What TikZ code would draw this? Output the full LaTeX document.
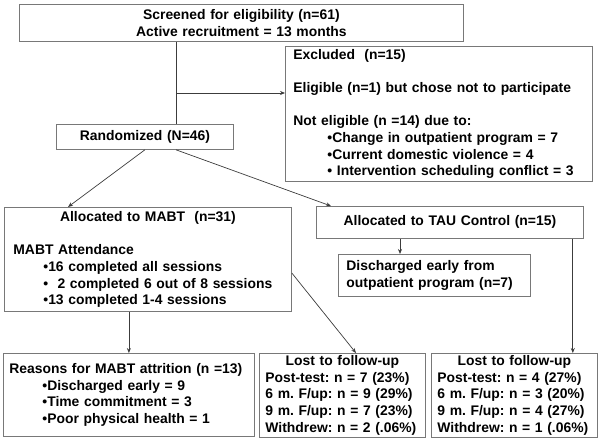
\documentclass[tikz,border=0pt]{standalone}
\usepackage{fontspec}
\setmainfont{Liberation Sans}
\usetikzlibrary{arrows.meta}
\definecolor{boxgray}{RGB}{120,120,120}
\definecolor{linegray}{RGB}{60,60,60}
\tikzset{
  box/.style={draw=boxgray, line width=0.8pt, inner xsep=8pt, inner ysep=2pt,
    anchor=north west, align=left},
  arr/.style={draw=linegray, line width=0.7pt, -{Stealth[length=5pt,width=4pt]}},
  link/.style={draw=linegray, line width=0.7pt}
}
\begin{document}
\begin{tikzpicture}[x=1pt, y=-1pt, font=\bfseries\fontsize{13.9}{16.7}\selectfont\frenchspacing]
    \useasboundingbox (0,0) rectangle (602,441);

    % Enrolment
    \node[box, align=center, minimum width=444pt, minimum height=37pt, text width=428pt]
        (screen) at (19,4) {Screened for eligibility (n=61)\\Active recruitment = 13 months};
    \node[box, minimum width=307pt, minimum height=135pt, text width=291pt]
        (excl) at (285,46) {Excluded\ \ (n=15)\\[16.7pt]
        Eligible (n=1) but chose not to participate\\[16.7pt]
        Not eligible (n =14) due to:\\
        \hspace*{34pt}•Change in outpatient program = 7\\
        \hspace*{34pt}•Current domestic violence = 4\\
        \hspace*{34pt}• Intervention scheduling conflict = 3};
    \node[box, align=center, minimum width=177pt, minimum height=25pt, text width=161pt]
        (rand) at (56,124) {Randomized (N=46)};

    % Allocation
    \node[box, inner xsep=9pt, minimum width=287pt, minimum height=104pt, text width=269pt]
        (mabt) at (4,207) {{\centering Allocated to MABT\ \ (n=31)\par}
        \mbox{}\\
        MABT Attendance\\
        \hspace*{30pt}•16 completed all sessions\\
        \hspace*{30pt}•\ \ 2 completed 6 out of 8 sessions\\
        \hspace*{30pt}•13 completed 1-4 sessions};
    \node[box, align=center, minimum width=267pt, minimum height=32pt, text width=251pt]
        (tau) at (316,206) {Allocated to TAU Control (n=15)};
    \node[box, minimum width=192pt, minimum height=42pt, text width=176pt]
        (disch) at (338,254) {Discharged early from\\outpatient program (n=7)};

    % Follow-up
    \node[box, inner xsep=6pt, minimum width=251pt, minimum height=83pt, text width=239pt]
        (reasons) at (3,353) {Reasons for MABT attrition (n =13)\\
        \hspace*{33pt}•Discharged early = 9\\
        \hspace*{33pt}•Time commitment = 3\\
        \hspace*{33pt}•Poor physical health = 1};
    \node[box, inner xsep=6pt, minimum width=166pt, minimum height=82pt, text width=154pt]
        (lostA) at (259,353) {{\centering Lost to follow-up\par}
        Post-test: n = 7 (23\%)\\
        6 m. F/up: n = 9 (29\%)\\
        9 m. F/up: n = 7 (23\%)\\
        Withdrew: n = 2 (.06\%)};
    \node[box, inner xsep=6pt, minimum width=166pt, minimum height=82pt, text width=154pt]
        (lostB) at (431,353) {{\centering Lost to follow-up\par}
        Post-test: n = 4 (27\%)\\
        6 m. F/up: n = 3 (20\%)\\
        9 m. F/up: n = 4 (27\%)\\
        Withdrew: n = 1 (.06\%)};

    % Connectors
    \coordinate (trunk) at (176,93);
    \draw[link] (screen.south -| trunk) -- (rand.north -| trunk);
    \draw[arr] (trunk) -- (trunk -| excl.west);
    \draw[arr] (rand.south) -- ([xshift=64pt]mabt.north west);
    \draw[arr] ([xshift=120pt]rand.south west) -- ([xshift=15pt]tau.north west);
    \coordinate (taudrop) at ([xshift=84pt]tau.south west);
    \draw[arr] (taudrop) -- (taudrop |- disch.north);
    \coordinate (tauside) at ([xshift=-11pt]tau.south east);
    \draw[arr] (tauside) -- (tauside |- lostB.north);
    \draw[arr] (mabt.south -| reasons.north) -- (reasons.north);
    \draw[arr] ([yshift=-66pt]mabt.north east) -- ([xshift=97pt]lostA.north west);
\end{tikzpicture}
\end{document}
